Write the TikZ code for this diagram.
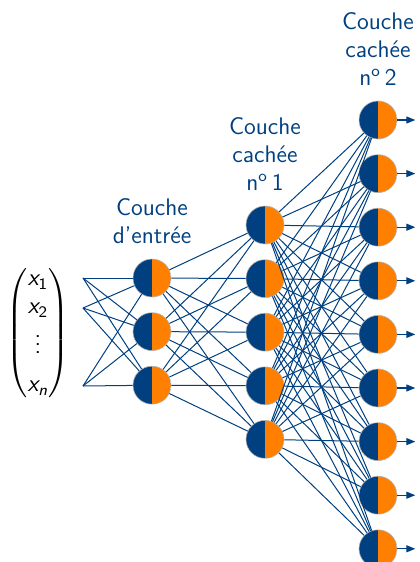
\documentclass[tikz,border=0pt]{standalone}
\usepackage{amsmath}
\usetikzlibrary{arrows.meta, positioning}
\definecolor{nnblue}{RGB}{0,64,128}
\definecolor{nnorange}{RGB}{255,128,0}
\newcommand{\xin}[1]{\textsl{x}_{#1}}

\begin{document}
\begin{tikzpicture}[
    x=0.5pt, y=-0.5pt,
    node distance=7.5pt and 7.5pt,
    neuron/.style={
        circle,
        draw=gray!60,
        line width=0.3pt,
        minimum size=19pt,
        inner sep=0pt,
        path picture={
            \fill[nnblue] (path picture bounding box.south west) rectangle (path picture bounding box.north);
            \fill[nnorange] (path picture bounding box.south) rectangle (path picture bounding box.north east);
        }
    },
    layerLabel/.style={align=center, font=\large\sffamily, text=nnblue},
    linkLine/.style={nnblue, line width=0.5pt},
    outArrow/.style={-{Triangle[length=4.5pt, width=3.5pt]}, nnblue, line width=0.6pt}
]
    \useasboundingbox (0,0) rectangle (419,562);

    % Input vector
    \node[font=\large\sffamily] (vec) at (38,333) {$\begin{pmatrix} \xin{\mathsf{1}}\\ \xin{\mathsf{2}}\\[1pt] \vdots\\[5pt] \xin{\textsl{n}} \end{pmatrix}$};
    \coordinate (x1p) at (83,278);
    \coordinate (x2p) at (83,308);
    \coordinate (xnp) at (83,386);

    % Input layer
    \node[neuron] (inp1) at (152,278) {};
    \node[neuron, below=of inp1] (inp2) {};
    \node[neuron, below=of inp2] (inp3) {};

    % Hidden layer 1
    \node[neuron] (hidA1) at (265,225) {};
    \node[neuron, below=of hidA1] (hidA2) {};
    \node[neuron, below=of hidA2] (hidA3) {};
    \node[neuron, below=of hidA3] (hidA4) {};
    \node[neuron, below=of hidA4] (hidA5) {};

    % Hidden layer 2
    \node[neuron] (hidB1) at (378,120) {};
    \node[neuron, below=of hidB1] (hidB2) {};
    \node[neuron, below=of hidB2] (hidB3) {};
    \node[neuron, below=of hidB3] (hidB4) {};
    \node[neuron, below=of hidB4] (hidB5) {};
    \node[neuron, below=of hidB5] (hidB6) {};
    \node[neuron, below=of hidB6] (hidB7) {};
    \node[neuron, below=of hidB7] (hidB8) {};
    \node[neuron, below=of hidB8] (hidB9) {};

    % Layer labels
    \node[layerLabel, above=4pt of inp1] (labIn) {Couche\\d’entrée};
    \node[layerLabel, above=4pt of hidA1] (labHidA) {Couche\\cachée\\n\textsuperscript{o}\,1};
    \node[layerLabel, above=4pt of hidB1] (labHidB) {Couche\\cachée\\n\textsuperscript{o}\,2};

    % Connections
    \foreach \s in {x1p,x2p,xnp}
        \foreach \t in {1,...,3}
            \draw[linkLine] (\s) -- (inp\t);
    \foreach \s in {1,...,3}
        \foreach \t in {1,...,5}
            \draw[linkLine] (inp\s) -- (hidA\t);
    \foreach \s in {1,...,5}
        \foreach \t in {1,...,9}
            \draw[linkLine] (hidA\s) -- (hidB\t);

    % Outputs
    \foreach \t in {1,...,9} {
        \coordinate[right=9pt of hidB\t] (out\t);
        \draw[outArrow] (hidB\t) -- (out\t);
    }
\end{tikzpicture}
\end{document}
